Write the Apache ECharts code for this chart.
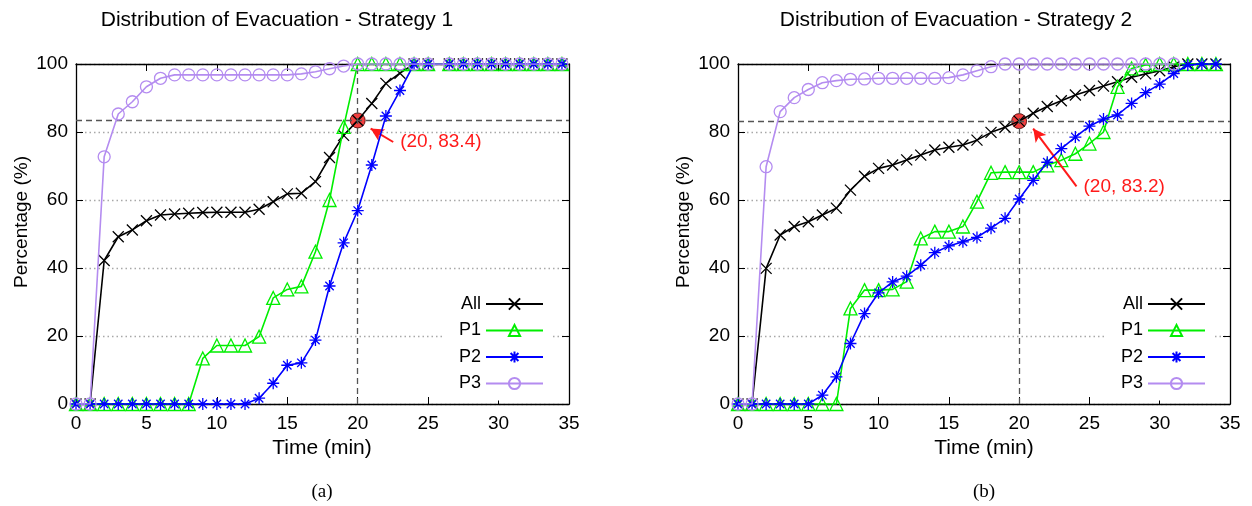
<!DOCTYPE html>
<html>
<head>
<meta charset="utf-8">
<script src="https://cdn.jsdelivr.net/npm/echarts@6/dist/echarts.min.js"></script>
<style>
html,body{margin:0;padding:0;background:#fff;}
#c{width:1252px;height:506px;}
</style>
</head>
<body>
<div id="c"></div>
<script>
// ---------- data ----------
var TITLES = ['Distribution of Evacuation - Strategy 1', 'Distribution of Evacuation - Strategy 2'];
var CAPTIONS = ['(a)', '(b)'];
var SERIES_NAMES = ['All', 'P1', 'P2', 'P3'];
var X_TICKS = [0, 5, 10, 15, 20, 25, 30, 35];
var Y_TICKS = [0, 20, 40, 60, 80, 100];

// Strategy 1
var TIME_L = [0,1,2,3,4,5,6,7,8,9,10,11,12,13,14,15,16,17,18,19,20,21,22,23,24,25,26.5,27.5,28.5,29.5,30.5,31.5,32.5,33.5,34.5];
var ALL_L = [0,0,42.2,49.2,51.2,53.9,55.6,55.9,56.1,56.3,56.4,56.4,56.4,57.3,59.5,61.8,62.0,65.4,72.5,79.0,83.4,88.4,94.3,97.3,100,100,100,100,100,100,100,100,100,100,100];
var P1_L  = [0,0,0,0,0,0,0,0,0,13.4,17.2,17.2,17.2,19.8,31.2,33.7,34.6,44.8,60.0,81.5,100,100,100,100,100,100,100,100,100,100,100,100,100,100,100];
var P2_L  = [0,0,0,0,0,0,0,0,0,0,0,0,0,1.7,6.1,11.4,12.1,18.8,34.7,47.4,56.9,70.3,84.7,92.2,100,100,100,100,100,100,100,100,100,100,100];
var P3_L  = [0,0,72.7,85.3,88.9,93.3,95.8,96.8,96.8,96.8,96.8,96.8,96.8,96.8,96.8,96.8,97.1,97.7,98.6,99.4,100,100,100,100,100,100,100,100,100,100,100,100,100,100,100];
var MARK_L = [20, 83.4];

// Strategy 2
var TIME_R = [0,1,2,3,4,5,6,7,8,9,10,11,12,13,14,15,16,17,18,19,20,21,22,23,24,25,26,27,28,29,30,31,32,33,34];
var ALL_R = [0,0,39.9,49.7,52.2,53.6,55.6,57.6,62.9,67.0,69.3,70.3,71.8,73.2,74.7,75.5,76.2,77.6,79.9,81.4,83.2,85.5,87.5,89.2,90.9,92.2,93.5,94.8,96.1,97.1,98.0,99.2,100,100,100];
var P1_R  = [0,0,0,0,0,0,0,0,28.1,33.5,33.5,33.7,36.0,48.7,50.7,50.7,52.2,59.5,68.0,68.2,68.2,68.2,70.2,71.7,73.6,76.6,80.0,93.3,98.7,99.7,100,100,100,100,100];
var P2_R  = [0,0,0,0,0,0,2.6,8.0,17.8,26.6,32.7,35.9,37.6,40.8,44.5,46.5,47.7,49.0,51.7,54.6,60.3,65.8,71.1,75.1,78.5,81.7,83.8,85.0,88.4,91.6,94.1,97.2,99.7,100,100];
var P3_R  = [0,0,69.8,86.0,90.1,92.5,94.5,95.1,95.5,95.6,95.8,95.8,95.8,95.8,95.8,96.0,96.8,98.0,99.2,100,100,100,100,100,100,100,100,100,100,100,100,100];
var MARK_R = [20, 83.2];

// ---------- build ----------
function zip(t, v) { var out = []; for (var i = 0; i < v.length; i++) out.push([t[i], v[i]]); return out; }

var FONT = 'Liberation Sans, Arial, Helvetica, sans-serif';
var COLORS = ['#000000', '#00ee00', '#0000ff', '#b48cf0'];
var SYMBOLS = [
  'path://M0,0L10,10M10,0L0,10',
  'triangle',
  'path://M1.5,1.5L8.5,8.5M8.5,1.5L1.5,8.5M5,0L5,10M0,5L10,5',
  'circle'
];
var SYMBOL_SIZES = [11, 13, 12, 12];

function lineSeries(idx, name, data, gi) {
  var c = COLORS[idx];
  return {
    type: 'line', name: name, data: data,
    xAxisIndex: gi * 2, yAxisIndex: gi * 2,
    symbol: SYMBOLS[idx], symbolSize: SYMBOL_SIZES[idx],
    showAllSymbol: true, animation: false,
    lineStyle: { color: c, width: 1.6 },
    itemStyle: { color: 'rgba(0,0,0,0)', borderColor: c, borderWidth: 1.3 },
    emphasis: { disabled: true },
    z: 3 + idx
  };
}

function markSeries(mark, gi, labelAt) {
  return {
    type: 'scatter', name: 'mark' + gi, data: [mark],
    xAxisIndex: gi * 2, yAxisIndex: gi * 2,
    symbol: 'circle', symbolSize: 15, animation: false, z: 2,
    itemStyle: { color: '#ee1111', borderColor: '#440000', borderWidth: 1 },
    markLine: {
      silent: true, animation: false,
      symbol: ['none', 'none'],
      label: { show: false },
      lineStyle: { color: '#555555', width: 1.3, type: [6, 4] },
      data: [ { yAxis: mark[1] }, { xAxis: mark[0] } ]
    },
    markPoint: {
      silent: true, animation: false,
      symbol: 'circle', symbolSize: 0,
      data: [{ coord: labelAt, name: '(' + mark[0] + ', ' + mark[1] + ')' }],
      label: { show: true, position: 'right', distance: 7, formatter: '{b}', color: '#ff1a1a', fontSize: 19, fontFamily: FONT }
    }
  };
}

function arrowSeries(gi, arrowStart, arrowEnd) {
  return {
    type: 'line', name: 'arrow' + gi, data: [],
    xAxisIndex: gi * 2, yAxisIndex: gi * 2,
    markLine: {
      silent: true, animation: false,
      symbol: ['none', 'arrow'], symbolSize: [10, 13],
      label: { show: false },
      lineStyle: { color: '#ff1a1a', width: 2, type: 'solid' },
      data: [[ { coord: arrowStart }, { coord: arrowEnd } ]]
    }
  };
}

function xAxes(gi) {
  var base = {
    type: 'value', gridIndex: gi, min: 0, max: 35, interval: 5,
    axisLine: { show: true, onZero: false, lineStyle: { color: '#000', width: 1.3 } },
    axisTick: { show: true, inside: true, length: 7, lineStyle: { color: '#000', width: 1 } },
    splitLine: { show: false }
  };
  var bottom = Object.assign({}, base, {
    position: 'bottom',
    axisLabel: { show: true, color: '#000', fontSize: 19, fontFamily: FONT, margin: 10 }
  });
  var top = Object.assign({}, base, { position: 'top', axisLabel: { show: false } });
  return [bottom, top];
}
function yAxes(gi) {
  var base = {
    type: 'value', gridIndex: gi, min: 0, max: 100, interval: 20,
    axisLine: { show: true, onZero: false, lineStyle: { color: '#000', width: 1.3 } },
    axisTick: { show: true, inside: true, length: 7, lineStyle: { color: '#000', width: 1 } }
  };
  var left = Object.assign({}, base, {
    position: 'left',
    axisLabel: { show: true, color: '#000', fontSize: 19, fontFamily: FONT, margin: 8 },
    splitLine: { show: true, lineStyle: { color: '#a8a8a8', width: 1.3, type: [1.5, 3] } }
  });
  var right = Object.assign({}, base, { position: 'right', axisLabel: { show: false }, splitLine: { show: false } });
  return [left, right];
}

var series = [];
series.push(markSeries(MARK_L, 0, [22.52, 77.06]));
series.push(lineSeries(0, 'All', zip(TIME_L, ALL_L), 0));
series.push(lineSeries(1, 'P1', zip(TIME_L, P1_L), 0));
series.push(lineSeries(2, 'P2', zip(TIME_L, P2_L), 0));
series.push(lineSeries(3, 'P3', zip(TIME_L, P3_L), 0));
series.push(arrowSeries(0, [22.52, 77.06], [20.92, 81.0]));

series.push(markSeries(MARK_R, 1, [24.08, 64.0]));
series.push(lineSeries(0, 'All', zip(TIME_R, ALL_R), 1));
series.push(lineSeries(1, 'P1', zip(TIME_R, P1_R), 1));
series.push(lineSeries(2, 'P2', zip(TIME_R, P2_R), 1));
series.push(lineSeries(3, 'P3', zip(TIME_R, P3_R), 1));
series.push(arrowSeries(1, [24.08, 64.0], [21.0, 81.0]));

function legend(right) {
  return {
    data: SERIES_NAMES, orient: 'vertical', align: 'right',
    right: right, top: 287,
    itemWidth: 57, itemHeight: 14, itemGap: 8.5,
    padding: [8, 6, 8, 16],
    backgroundColor: '#ffffff',
    selectedMode: false,
    textStyle: { color: '#000', fontSize: 18, fontFamily: FONT }
  };
}

var option = {
  backgroundColor: '#ffffff',
  animation: false,
  title: [
    { text: TITLES[0], left: 272, top: 5, textAlign: 'center', textStyle: { fontSize: 21, fontWeight: 'normal', color: '#000', fontFamily: FONT } },
    { text: TITLES[1], left: 951, top: 5, textAlign: 'center', textStyle: { fontSize: 21, fontWeight: 'normal', color: '#000', fontFamily: FONT } }
  ],
  grid: [
    { left: 76, right: 683, top: 64, bottom: 102 },
    { left: 738, right: 22, top: 64, bottom: 102 }
  ],
  xAxis: xAxes(0).concat(xAxes(1)),
  yAxis: yAxes(0).concat(yAxes(1)),
  legend: [legend(702), legend(40)],
  series: series,
  graphic: [
    { type: 'text', x: 22, y: 222, rotation: Math.PI / 2, style: { text: 'Percentage (%)', font: '19px ' + FONT, fill: '#000', align: 'center', verticalAlign: 'middle', textAlign: 'center', textVerticalAlign: 'middle' } },
    { type: 'text', x: 684, y: 222, rotation: Math.PI / 2, style: { text: 'Percentage (%)', font: '19px ' + FONT, fill: '#000', align: 'center', verticalAlign: 'middle', textAlign: 'center', textVerticalAlign: 'middle' } },
    { type: 'text', x: 322, y: 448, style: { text: 'Time (min)', font: '21px ' + FONT, fill: '#000', align: 'center', verticalAlign: 'middle', textAlign: 'center', textVerticalAlign: 'middle' } },
    { type: 'text', x: 984, y: 448, style: { text: 'Time (min)', font: '21px ' + FONT, fill: '#000', align: 'center', verticalAlign: 'middle', textAlign: 'center', textVerticalAlign: 'middle' } },
    { type: 'text', x: 322, y: 492, style: { text: CAPTIONS[0], font: '19px Liberation Serif, Times New Roman, serif', fill: '#000', align: 'center', verticalAlign: 'middle', textAlign: 'center', textVerticalAlign: 'middle' } },
    { type: 'text', x: 984, y: 492, style: { text: CAPTIONS[1], font: '19px Liberation Serif, Times New Roman, serif', fill: '#000', align: 'center', verticalAlign: 'middle', textAlign: 'center', textVerticalAlign: 'middle' } }
  ]
};

var chart = echarts.init(document.getElementById('c'), null, { renderer: 'canvas' });
chart.setOption(option);
</script>
</body>
</html>
